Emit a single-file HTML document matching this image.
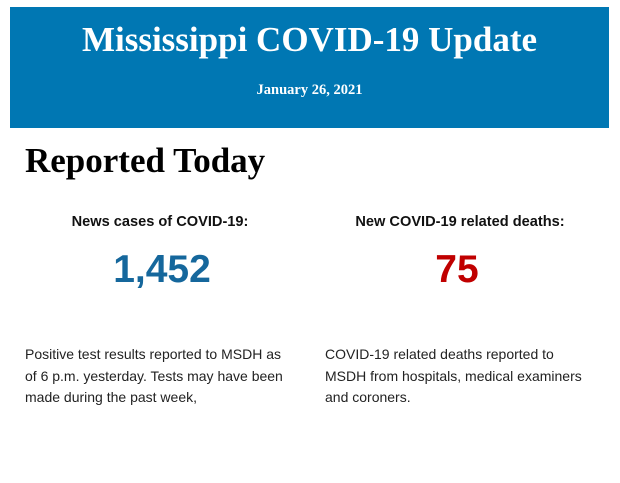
<!DOCTYPE html>
<html><head><meta charset="utf-8"><style>
body{margin:0;width:620px;height:483px;background:#fff;position:relative;overflow:hidden;font-family:"Liberation Sans",Arial,sans-serif}
.banner{position:absolute;left:10px;top:7px;width:599px;height:121px;background:#0077b3;color:#fff;text-align:center;font-family:"Liberation Serif",serif;font-weight:bold}
.t{position:absolute;left:0;right:0;top:13px;font-size:35px;line-height:40px}
.d{position:absolute;left:0;right:0;top:74px;font-size:14.5px;line-height:18px}
h1{position:absolute;left:25px;top:141px;margin:0;font-family:"Liberation Serif",serif;font-size:35px;line-height:40px;color:#000}
.lab{position:absolute;top:213px;width:300px;text-align:center;font-size:14.6px;font-weight:bold;color:#111;line-height:18px}
.num{position:absolute;top:247px;width:300px;text-align:center;font-size:39px;font-weight:bold;line-height:46px}
.p{position:absolute;top:344px;width:268px;font-size:14px;line-height:21.5px;color:#222}
</style></head><body>
<div class="banner"><div class="t">Mississippi COVID-19 Update</div><div class="d">January 26, 2021</div></div>
<h1>Reported Today</h1>
<div class="lab" style="left:10px">News cases of COVID-19:</div>
<div class="lab" style="left:310px">New COVID-19 related deaths:</div>
<div class="num" style="left:12px;color:#15679c">1,452</div>
<div class="num" style="left:307px;color:#c00000">75</div>
<div class="p" style="left:25px">Positive test results reported to MSDH as of 6 p.m. yesterday. Tests may have been made during the past week,</div>
<div class="p" style="left:325px">COVID-19 related deaths reported to MSDH from hospitals, medical examiners and coroners.</div>
</body></html>
